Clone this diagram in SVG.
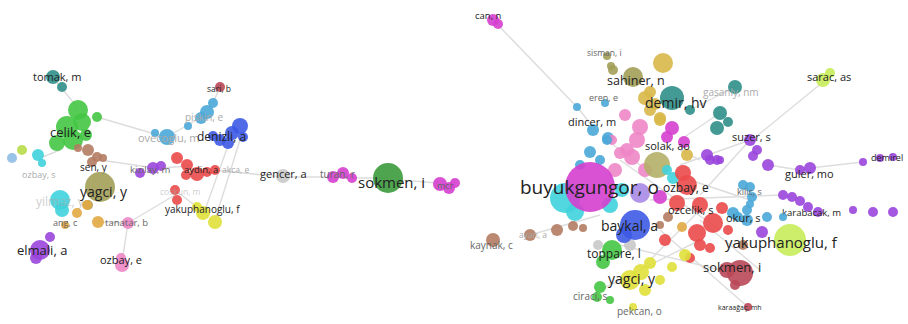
<svg xmlns="http://www.w3.org/2000/svg" width="908" height="324" viewBox="0 0 908 324">
<style>
text{font-family:"Open Sans","Liberation Sans",sans-serif;fill:#222}
.lt{fill:#aaa}
.md{fill:#666}
circle{opacity:0.9}
.e line{stroke:#ddd;stroke-width:1.4;fill:none}
.gr{fill:#44c744}.tl{fill:#2f8f8a}.mg{fill:#d53fcf}.pu{fill:#9a45dc}.bl{fill:#3d5ae6}
.lb{fill:#4aa9d8}.cy{fill:#3fd2dc}.ol{fill:#a29f58}.br{fill:#b47c62}.or{fill:#e2a842}
.rd{fill:#eb4a4a}.dr{fill:#b94858}.ye{fill:#dfe03a}.yg{fill:#c6ec5a}.pk{fill:#ee86c6}
.gy{fill:#c9c9c9}.dg{fill:#3c9a3c}.go{fill:#d8b848}.lv{fill:#a98ae6}
</style>
<rect width="908" height="324" fill="#fff"/>
<g class="e">
<line x1="53" y1="78" x2="78" y2="108"/>
<line x1="97" y1="117" x2="165" y2="137"/>
<line x1="100" y1="160" x2="155" y2="168"/>
<line x1="160" y1="168" x2="190" y2="166"/>
<line x1="215" y1="170" x2="283" y2="177"/>
<line x1="283" y1="177" x2="333" y2="177"/>
<line x1="352" y1="178" x2="388" y2="178"/>
<line x1="400" y1="180" x2="438" y2="183"/>
<line x1="230" y1="140" x2="205" y2="210"/>
<line x1="240" y1="140" x2="215" y2="220"/>
<line x1="175" y1="190" x2="197" y2="207"/>
<line x1="98" y1="222" x2="128" y2="223"/>
<line x1="128" y1="223" x2="175" y2="195"/>
<line x1="128" y1="223" x2="122" y2="262"/>
<line x1="40" y1="158" x2="60" y2="150"/>
<line x1="213" y1="103" x2="220" y2="87"/>
<line x1="167" y1="137" x2="205" y2="115"/>
<line x1="498" y1="25" x2="578" y2="108"/>
<line x1="823" y1="82" x2="752" y2="140"/>
<line x1="750" y1="140" x2="680" y2="165"/>
<line x1="810" y1="168" x2="863" y2="162"/>
<line x1="768" y1="165" x2="800" y2="170"/>
<line x1="735" y1="87" x2="690" y2="110"/>
<line x1="720" y1="113" x2="680" y2="140"/>
<line x1="607" y1="140" x2="640" y2="165"/>
<line x1="593" y1="127" x2="578" y2="108"/>
<line x1="530" y1="235" x2="600" y2="215"/>
<line x1="690" y1="180" x2="750" y2="200"/>
<line x1="700" y1="220" x2="760" y2="270"/>
<line x1="660" y1="230" x2="748" y2="307"/>
<line x1="650" y1="200" x2="783" y2="195"/>
<line x1="620" y1="160" x2="720" y2="230"/>
<line x1="640" y1="270" x2="700" y2="210"/>
<line x1="680" y1="150" x2="700" y2="160"/>
<line x1="700" y1="195" x2="750" y2="140"/>
<line x1="620" y1="245" x2="740" y2="275"/>
<line x1="600" y1="290" x2="700" y2="240"/>
</g>

<g id="tomak-m"><circle class="tl" cx="53" cy="77" r="7"/><circle class="tl" cx="62" cy="87" r="5"/><text x="33" y="81" font-size="11">tomak, m</text></g>
<g id="celik-e"><circle class="gr" cx="78" cy="110" r="10"/><circle class="gr" cx="82" cy="122" r="9"/><circle class="gr" cx="67" cy="127" r="11"/><circle class="gr" cx="73" cy="140" r="10"/><circle class="gr" cx="57" cy="143" r="8"/><circle class="gr" cx="86" cy="135" r="6"/><circle class="gr" cx="97" cy="117" r="5"/><text x="50" y="137" font-size="13">celik, e</text></g>
<g id="ozbay-s"><circle fill="#8fbde6" cx="12" cy="158" r="5"/><circle fill="#b8dc48" cx="22" cy="150" r="5"/><circle class="cy" cx="38" cy="155" r="6"/><circle class="cy" cx="42" cy="163" r="4"/><text class="lt" x="22" y="178" font-size="9">ozbay, s</text></g>
<g id="sen-y"><circle class="br" cx="78" cy="148" r="4"/><circle class="br" cx="88" cy="150" r="6"/><circle class="br" cx="97" cy="157" r="5"/><circle class="br" cx="103" cy="158" r="4"/><circle class="br" cx="92" cy="162" r="5"/><text x="80" y="171" font-size="10">sen, y</text></g>
<g id="yilmaz-y"><circle class="cy" cx="60" cy="200" r="10"/><circle class="cy" cx="62" cy="210" r="7"/><text class="lt" x="36" y="206" font-size="12" fill-opacity="0.6">yilmaz, y</text></g>
<g id="yagci-y"><circle class="ol" cx="100" cy="187" r="15"/><circle class="ol" cx="88" cy="205" r="5"/><text x="80" y="197" font-size="14">yagci, y</text></g>
<g id="angi-c"><circle class="or" cx="87" cy="205" r="5"/><circle class="or" cx="77" cy="213" r="5"/><circle class="or" cx="65" cy="225" r="4"/><text class="md" x="53" y="226" font-size="9">ang, c</text></g>
<g id="tanatar-b"><circle class="or" cx="98" cy="222" r="6"/><circle class="pk" cx="128" cy="223" r="6"/><text class="md" x="105" y="226" font-size="9.5">tanatar, b</text></g>
<g id="elmali-a"><circle class="pu" cx="40" cy="250" r="10"/><circle class="pu" cx="50" cy="237" r="5"/><circle class="pu" cx="36" cy="258" r="6"/><text x="17" y="255" font-size="13">elmali, a</text></g>
<g id="ozbay-e"><circle class="pk" cx="122" cy="265" r="7"/><circle class="pk" cx="121" cy="258" r="5"/><text x="100" y="264" font-size="11">ozbay, e</text></g>
<g id="kizilay-m"><circle class="pu" cx="140" cy="173" r="5"/><circle class="pu" cx="153" cy="168" r="6"/><circle class="pu" cx="161" cy="166" r="5"/><text class="md" x="130" y="173" font-size="9.5">kizilay, m</text></g>
<g id="ovecoglu-m"><circle class="lb" cx="167" cy="137" r="8"/><circle class="lb" cx="155" cy="133" r="4"/><text class="lt" x="138" y="142" font-size="11">ovecoglu, m</text></g>
<g id="piskin-e"><circle class="lb" cx="213" cy="103" r="5"/><circle class="lb" cx="207" cy="112" r="7"/><circle class="lb" cx="201" cy="118" r="6"/><circle class="lb" cx="188" cy="126" r="4"/><text class="lt" x="185" y="121" font-size="10">piskin, e</text></g>
<g id="sari-b"><circle class="dr" cx="220" cy="87" r="5"/><text x="207" y="92" font-size="8.5">sari, b</text></g>
<g id="denizli-a"><circle class="bl" cx="240" cy="126" r="8"/><circle class="bl" cx="232" cy="133" r="7"/><circle class="bl" cx="220" cy="140" r="6"/><circle class="bl" cx="213" cy="136" r="5"/><circle class="bl" cx="228" cy="143" r="6"/><circle class="bl" cx="243" cy="137" r="5"/><text x="197" y="141" font-size="12">denizli, a</text></g>
<g id="aydin-a"><circle class="rd" cx="177" cy="158" r="6"/><circle class="rd" cx="187" cy="165" r="6"/><circle class="rd" cx="197" cy="174" r="7"/><circle class="rd" cx="207" cy="172" r="5"/><circle class="rd" cx="215" cy="170" r="5"/><circle class="rd" cx="186" cy="175" r="5"/><text fill="#8a3030" x="184" y="173" font-size="9.5">aydin, a</text></g>
<g id="akca-e"><text class="lt" x="222" y="173" font-size="8.5">akca, e</text></g>
<g id="coskun-m"><circle class="rd" cx="175" cy="190" r="5"/><circle class="rd" cx="177" cy="200" r="5"/><text class="lt" x="160" y="195" font-size="8.5" fill-opacity="0.6">coskun, m</text></g>
<g id="yakuphanoglu-f"><circle class="ye" cx="197" cy="207" r="5"/><circle class="ye" cx="203" cy="213" r="7"/><circle class="ye" cx="215" cy="222" r="7"/><text x="165" y="213" font-size="10">yakuphanoglu, f</text></g>
<g id="gencer-a"><circle class="gy" cx="283" cy="176" r="7"/><text x="260" y="178" font-size="11">gencer, a</text></g>
<g id="turan-r"><circle class="mg" cx="333" cy="177" r="6"/><circle class="mg" cx="343" cy="173" r="6"/><circle class="mg" cx="352" cy="178" r="5"/><text class="md" x="320" y="178" font-size="10">turan, r</text></g>
<g id="mcr"><circle class="mg" cx="440" cy="184" r="7"/><circle class="mg" cx="449" cy="188" r="6"/><circle class="mg" cx="455" cy="183" r="5"/><text class="md" x="437" y="189" font-size="9">mcr</text></g>
<g id="sokmen-i"><circle class="dg" cx="388" cy="178" r="15"/><text x="358" y="188" font-size="15">sokmen, i</text></g>

<g id="core">
<circle class="lb" cx="577" cy="107" r="4"/><circle class="lb" cx="593" cy="130" r="6"/><circle class="lb" cx="608" cy="138" r="6"/><circle class="lb" cx="590" cy="152" r="6"/><circle class="lb" cx="600" cy="160" r="5"/><circle class="lb" cx="580" cy="165" r="5"/>
<circle class="go" cx="650" cy="110" r="6"/><circle class="go" cx="660" cy="120" r="6"/><circle class="go" cx="645" cy="98" r="7"/><circle class="go" cx="687" cy="155" r="6"/>
<circle class="pk" cx="625" cy="115" r="6"/><circle class="pk" cx="640" cy="127" r="8"/><circle class="pk" cx="637" cy="140" r="8"/><circle class="pk" cx="627" cy="150" r="7"/><circle class="pk" cx="620" cy="153" r="6"/><circle class="pk" cx="632" cy="157" r="8"/><circle class="pk" cx="615" cy="170" r="7"/><circle class="pk" cx="645" cy="170" r="7"/><circle class="pk" cx="612" cy="140" r="5"/>
<circle class="mg" cx="672" cy="128" r="7"/><circle class="mg" cx="667" cy="137" r="6"/><circle class="mg" cx="684" cy="142" r="6"/><circle class="mg" cx="660" cy="197" r="7"/>
<circle class="pu" cx="707" cy="155" r="6"/><circle class="pu" cx="717" cy="160" r="5"/>
<circle fill="#b4b068" cx="657" cy="165" r="13" opacity="0.75"/>
<circle class="cy" cx="667" cy="170" r="5"/><circle class="cy" cx="673" cy="178" r="6"/>
<circle class="cy" cx="565" cy="198" r="15"/><circle class="cy" cx="575" cy="212" r="9"/><circle class="cy" cx="610" cy="205" r="8"/><circle class="cy" cx="622" cy="190" r="7"/>
<circle class="lv" cx="640" cy="193" r="10"/>
<circle class="rd" cx="683" cy="173" r="8"/><circle class="rd" cx="687" cy="185" r="10"/><circle class="rd" cx="677" cy="203" r="8"/><circle class="rd" cx="713" cy="223" r="10"/><circle class="rd" cx="697" cy="233" r="9"/><circle class="rd" cx="700" cy="245" r="6"/><circle class="rd" cx="710" cy="248" r="5"/><circle class="rd" cx="700" cy="205" r="8"/><circle class="rd" cx="722" cy="208" r="6"/><circle class="rd" cx="665" cy="240" r="6"/><circle class="rd" cx="690" cy="258" r="5"/><circle class="rd" cx="728" cy="230" r="5"/>
<circle class="br" cx="668" cy="217" r="5"/><circle class="or" cx="682" cy="227" r="5"/><circle class="br" cx="743" cy="245" r="5"/><circle class="br" cx="660" cy="225" r="4"/>
<circle class="lb" cx="733" cy="213" r="6"/><circle class="lb" cx="747" cy="210" r="5"/><circle class="lb" cx="743" cy="185" r="5"/>
<circle class="gy" cx="630" cy="245" r="6"/>
<circle class="ye" cx="685" cy="255" r="6"/><circle class="ye" cx="672" cy="267" r="5"/>
</g>
<g id="can-n"><circle class="mg" cx="493" cy="20" r="6"/><circle class="mg" cx="498" cy="24" r="5"/><text x="475" y="19" font-size="9.5">can, n</text></g>
<g id="sisman-i"><circle class="ol" cx="607" cy="56" r="4"/><circle class="ol" cx="611" cy="66" r="4"/><text class="md" x="587" y="56" font-size="8.5">sisman, i</text></g>
<g id="sahiner-n"><circle class="go" cx="663" cy="63" r="10"/><circle class="ol" cx="633" cy="77" r="10"/><circle class="ol" cx="613" cy="70" r="5"/><circle class="go" cx="650" cy="92" r="6"/><circle class="go" cx="655" cy="104" r="6"/><circle class="go" cx="660" cy="118" r="6"/><text x="607" y="85" font-size="12.5">sahiner, n</text></g>
<g id="gasanly-nm"><circle class="tl" cx="735" cy="87" r="7"/><circle class="tl" cx="720" cy="113" r="7"/><circle class="tl" cx="717" cy="128" r="7"/><circle class="tl" cx="728" cy="122" r="5"/><text class="lt" x="703" y="96" font-size="10">gasanly, nm</text></g>
<g id="demir-hv"><circle class="tl" cx="672" cy="98" r="12"/><circle class="tl" cx="690" cy="110" r="5"/><text x="645" y="108" font-size="14">demir, hv</text></g>
<g id="eren-e"><circle class="lb" cx="605" cy="103" r="4"/><text class="md" x="589" y="101" font-size="9">eren, e</text></g>
<g id="dincer-m"><circle class="lb" cx="607" cy="140" r="5"/><text x="568" y="126" font-size="11">dincer, m</text></g>
<g id="sarac-as"><circle class="yg" cx="823" cy="80" r="7"/><circle class="yg" cx="830" cy="73" r="5"/><text x="807" y="81" font-size="11">sarac, as</text></g>
<g id="suzer-s"><circle class="pu" cx="750" cy="140" r="6"/><circle class="pu" cx="757" cy="150" r="5"/><circle class="pu" cx="753" cy="156" r="5"/><circle class="pu" cx="768" cy="165" r="6"/><circle class="pu" cx="710" cy="160" r="5"/><circle class="pu" cx="720" cy="160" r="4"/><text x="732" y="141" font-size="11">suzer, s</text></g>
<g id="guler-mo"><circle class="pu" cx="800" cy="170" r="5"/><circle class="pu" cx="810" cy="168" r="6"/><text x="785" y="178" font-size="11">guler, mo</text></g>
<g id="demirel"><circle class="pu" cx="863" cy="162" r="4"/><circle class="pu" cx="880" cy="158" r="4"/><circle class="pu" cx="893" cy="157" r="4"/><text x="871" y="161" font-size="9">demirel</text></g>
<g id="buyukgungor-o"><circle class="mg" cx="590" cy="187" r="25"/><text x="520" y="194" font-size="19">buyukgungor, o</text></g>
<g id="baykal-a"><circle class="bl" cx="635" cy="225" r="15"/><circle class="bl" cx="624" cy="235" r="8"/><text x="601" y="231" font-size="14">baykal, a</text></g>
<g id="kaynak-c"><circle class="br" cx="493" cy="240" r="7"/><circle class="br" cx="530" cy="235" r="6"/><circle class="br" cx="557" cy="230" r="6"/><circle class="br" cx="573" cy="226" r="5"/><circle class="br" cx="583" cy="228" r="4"/><text class="md" x="470" y="249" font-size="10">kaynak, c</text></g>
<g id="ayan-a"><text class="lt" x="519" y="238" font-size="8.5">ayan, a</text></g>
<g id="kilic-s"><circle class="lb" cx="750" cy="187" r="5"/><circle class="lb" cx="752" cy="197" r="5"/><circle class="lb" cx="750" cy="204" r="4"/><text class="md" x="737" y="195" font-size="9">kilic, s</text></g>
<g id="karabacak-m"><circle class="pu" cx="783" cy="195" r="5"/><circle class="pu" cx="792" cy="197" r="5"/><circle class="pu" cx="800" cy="201" r="5"/><circle class="pu" cx="808" cy="207" r="5"/><circle class="pu" cx="818" cy="212" r="5"/><circle class="pu" cx="853" cy="210" r="4"/><circle class="pu" cx="873" cy="212" r="5"/><circle class="pu" cx="893" cy="212" r="5"/><circle class="pu" cx="762" cy="232" r="6"/><text x="782" y="216" font-size="9.5">karabacak, m</text></g>
<g id="yakuphanoglu-f-r"><circle class="yg" cx="790" cy="240" r="16"/><text x="725" y="248" font-size="15">yakuphanoglu, f</text></g>
<g id="okur-s"><circle class="lb" cx="747" cy="220" r="6"/><circle class="lb" cx="738" cy="217" r="5"/><circle class="lb" cx="767" cy="217" r="5"/><circle class="lb" cx="783" cy="217" r="4"/><text x="726" y="222" font-size="11">okur, s</text></g>
<g id="sokmen-i-r"><circle class="dr" cx="740" cy="273" r="13"/><circle class="dr" cx="727" cy="270" r="8"/><circle class="dr" cx="735" cy="285" r="5"/><text fill="#555" x="703" y="272" font-size="13">sokmen, i</text></g>
<g id="karaagac-mh"><circle class="dr" cx="748" cy="307" r="4"/><text x="718" y="310" font-size="7">karaağaç, mh</text></g>
<g id="toppare-l"><circle class="gr" cx="612" cy="250" r="10"/><circle class="gr" cx="603" cy="262" r="7"/><circle class="gy" cx="598" cy="245" r="5"/><text x="587" y="258" font-size="12">toppare, l</text></g>
<g id="yagci-y-r"><circle class="ye" cx="630" cy="280" r="10"/><circle class="ye" cx="641" cy="272" r="8"/><circle class="ye" cx="650" cy="263" r="6"/><circle class="ye" cx="660" cy="280" r="5"/><circle class="ye" cx="645" cy="290" r="6"/><text x="608" y="284" font-size="14">yagci, y</text></g>
<g id="ciraci-s"><circle class="gr" cx="600" cy="287" r="6"/><circle class="gr" cx="597" cy="297" r="5"/><circle class="gr" cx="610" cy="300" r="4"/><text class="md" x="573" y="300" font-size="10">ciraci, s</text></g>
<g id="pekcan-o"><circle class="ye" cx="633" cy="307" r="4"/><text class="md" x="617" y="315" font-size="10">pekcan, o</text></g>
<g id="solak-ao"><text x="645" y="150" font-size="11">solak, ao</text></g>
<g id="ozbay-e-r"><text fill="#777" x="663" y="192" font-size="12">ozbay, e</text></g>
<g id="ozcelik-s"><text fill="#777" x="668" y="214" font-size="11">ozcelik, s</text></g>
</svg>
